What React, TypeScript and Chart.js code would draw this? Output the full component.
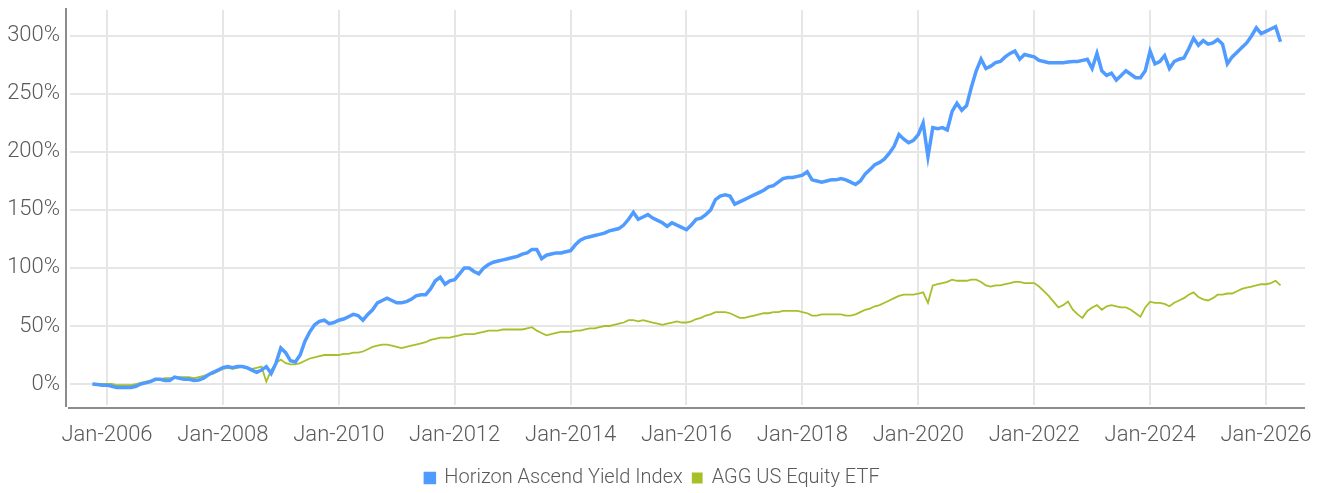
import { useEffect, useRef } from "react";
import { Chart, registerables } from "chart.js";

Chart.register(...registerables);

// ---- Data (monthly, starting Oct 2005) ----
const START_YEAR = 2005;
const START_MONTH = 10;

const seriesNames = ["Horizon Ascend Yield Index", "AGG US Equity ETF"];

const horizonIndex = [
  0, -0.5, -1,
  -1, -2, -3, -3, -3, -3, -2, 0, 1, 2, 4, 4,
  3, 3, 6, 5, 4, 4, 3, 3.5, 5, 8, 10, 12,
  14, 15, 14, 15, 15, 14, 12, 10, 12, 15, 9, 18,
  31, 27, 20, 19, 25, 37, 45, 51, 54, 55, 52, 53,
  55, 56, 58, 60, 59, 55, 60, 64, 70, 72, 74, 72,
  70, 70, 71, 73, 76, 77, 77, 82, 89, 92, 86, 89,
  90, 95, 100, 100, 97, 95, 100, 103, 105, 106, 107, 108,
  109, 110, 112, 113, 116, 116, 108, 111, 112, 113, 113, 114,
  115, 120, 124, 126, 127, 128, 129, 130, 132, 133, 134, 137,
  142, 148, 142, 144, 146, 143, 141, 139, 136, 139, 137, 135,
  133, 137, 142, 143, 146, 150, 159, 162, 163, 162, 155, 157,
  159, 161, 163, 165, 167, 170, 171, 174, 177, 178, 178, 179,
  180, 183, 176, 175, 174, 175, 176, 176, 177, 176, 174, 172,
  175, 181, 185, 189, 191, 194, 199, 205, 215, 211, 208, 210,
  215, 225, 196, 221, 220, 221, 219, 235, 242, 236, 240, 256,
  270, 280, 272, 274, 277, 278, 282, 285, 287, 280, 284, 283,
  282, 279, 278, 277, 277, 277, 277, 277.5, 278, 278, 279, 280,
  272, 285, 270, 266, 268, 262, 266, 270, 267, 264, 264, 270,
  287, 276, 278, 283, 272, 278, 280, 281, 289, 298, 292, 296,
  293, 294, 297, 293, 276, 282, 286, 290, 294, 300, 307, 302,
  304, 306, 308, 295,
];

const aggEtf = [
  0, 0, 0,
  0, 0, -1, -1, -1, -1, 0, 1, 2, 3, 4, 4,
  5, 5, 5, 6, 6, 6, 5, 6, 7, 8, 9, 11,
  13, 14, 13, 14, 15, 14, 13, 14, 15, 2, 12, 18,
  21, 18, 17, 17, 18, 20, 22, 23, 24, 25, 25, 25,
  25, 26, 26, 27, 27, 28, 30, 32, 33, 34, 34, 33,
  32, 31, 32, 33, 34, 35, 36, 38, 39, 40, 40, 40,
  41, 42, 43, 43, 43, 44, 45, 46, 46, 46, 47, 47,
  47, 47, 47, 48, 49, 46, 44, 42, 43, 44, 45, 45,
  45, 46, 46, 47, 48, 48, 49, 50, 50, 51, 52, 53,
  55, 55, 54, 55, 54, 53, 52, 51, 52, 53, 54, 53,
  53, 54, 56, 57, 59, 60, 62, 62, 62, 61, 59, 57,
  57, 58, 59, 60, 61, 61, 62, 62, 63, 63, 63, 63,
  62, 61, 59, 59, 60, 60, 60, 60, 60, 59, 59, 60,
  62, 64, 65, 67, 68, 70, 72, 74, 76, 77, 77, 77,
  78, 79, 70, 85, 86, 87, 88, 90, 89, 89, 89, 90,
  90, 88, 85, 84, 85, 85, 86, 87, 88, 88, 87, 87,
  87, 84, 80, 76, 71, 66, 68, 71, 64, 60, 57, 63,
  66, 68, 64, 67, 68, 67, 66, 66, 64, 61, 58, 66,
  71, 70, 70, 69, 67, 70, 72, 74, 77, 79, 75, 73,
  72, 74, 77, 77, 78, 78, 80, 82, 83, 84, 85, 86,
  86, 87, 89, 85,
];

const yTickValues = [0, 50, 100, 150, 200, 250, 300];
const xTickYears = [2006, 2008, 2010, 2012, 2014, 2016, 2018, 2020, 2022, 2024, 2026];

const X_MIN = 2005.362;
const X_MAX = 2026.673;
const Y_MIN = -18.1;
const Y_MAX = 322.4;

const BLUE = "#4f9bff";
const GREEN = "#a9bf2a";
const TEXT = "#5a5a5a";
const GRID = "#e6e6e6";
const AXIS = "#8c8c8c";
const FONT = "Roboto, 'Noto Sans', sans-serif";

const toPoints = (vals: number[]) =>
  vals.map((v, i) => ({ x: START_YEAR + (START_MONTH - 1 + i) / 12, y: v }));

const axisLinesPlugin = {
  id: "axisLines",
  beforeDatasetsDraw(chart: any) {
    const { ctx, chartArea: a } = chart;
    ctx.save();
    ctx.strokeStyle = AXIS;
    ctx.lineWidth = 2;
    ctx.beginPath();
    ctx.moveTo(a.left - 4, a.top - 2);
    ctx.lineTo(a.left - 4, a.bottom + 2);
    ctx.moveTo(a.left - 2, a.bottom + 3);
    ctx.lineTo(a.right, a.bottom + 3);
    ctx.stroke();
    ctx.restore();
  },
};

const legendHeightPlugin = {
  id: "legendHeight",
  beforeLayout(chart: any) {
    const lg = chart.legend;
    if (lg && !lg.__patched) {
      const orig = lg.fit.bind(lg);
      lg.fit = function () {
        orig();
        this.height = 35;
      };
      lg.__patched = true;
    }
  },
};

const zeroPad = (s: any) => {
  s.paddingTop = 0;
  s.paddingBottom = 0;
  s.paddingLeft = 0;
  s.paddingRight = 0;
};

export default function App() {
  const canvasRef = useRef<HTMLCanvasElement | null>(null);

  useEffect(() => {
    if (!canvasRef.current) return;
    const chart = new Chart(canvasRef.current, {
      type: "line",
      data: {
        datasets: [
          {
            label: seriesNames[0],
            data: toPoints(horizonIndex),
            borderColor: BLUE,
            backgroundColor: BLUE,
            borderWidth: 3.5,
            pointRadius: 0,
            tension: 0,
          },
          {
            label: seriesNames[1],
            data: toPoints(aggEtf),
            borderColor: GREEN,
            backgroundColor: GREEN,
            borderWidth: 1.8,
            pointRadius: 0,
            tension: 0,
          },
        ],
      },
      options: {
        animation: false,
        responsive: true,
        maintainAspectRatio: false,
        layout: { padding: { top: 10, right: 17, left: 0, bottom: 0 } },
        plugins: {
          tooltip: { enabled: false },
          legend: {
            position: "bottom",
            labels: {
              boxWidth: 9,
              boxHeight: 9,
              padding: 10,
              color: TEXT,
              font: { family: FONT, size: 20, weight: "300" },
            },
          },
        },
        scales: {
          x: {
            type: "linear",
            min: X_MIN,
            max: X_MAX,
            afterBuildTicks: (s: any) => {
              s.ticks = xTickYears.map((v) => ({ value: v }));
            },
            afterFit: (s: any) => {
              s.height = 53;
              zeroPad(s);
            },
            ticks: {
              color: TEXT,
              font: { family: FONT, size: 22, weight: "300" },
              padding: 17,
              maxRotation: 0,
              autoSkip: false,
              callback: (v: any) => "Jan-" + v,
            },
            grid: { color: GRID, lineWidth: 2, drawTicks: false, tickLength: 0 },
            border: { display: false },
          },
          y: {
            type: "linear",
            min: Y_MIN,
            max: Y_MAX,
            afterBuildTicks: (s: any) => {
              s.ticks = yTickValues.map((v) => ({ value: v }));
            },
            afterFit: (s: any) => {
              s.width = 70;
              zeroPad(s);
            },
            ticks: {
              color: TEXT,
              font: { family: FONT, size: 22, weight: "300" },
              padding: 10,
              callback: (v: any) => v + "%",
            },
            grid: { color: GRID, lineWidth: 2, drawTicks: false, tickLength: 0 },
            border: { display: false },
          },
        },
      },
      plugins: [axisLinesPlugin, legendHeightPlugin],
    });
    return () => chart.destroy();
  }, []);

  return (
    <div style={{ position: "fixed", left: 0, top: 0, width: 1322, height: 493, background: "#fff" }}>
      <canvas ref={canvasRef} />
    </div>
  );
}
